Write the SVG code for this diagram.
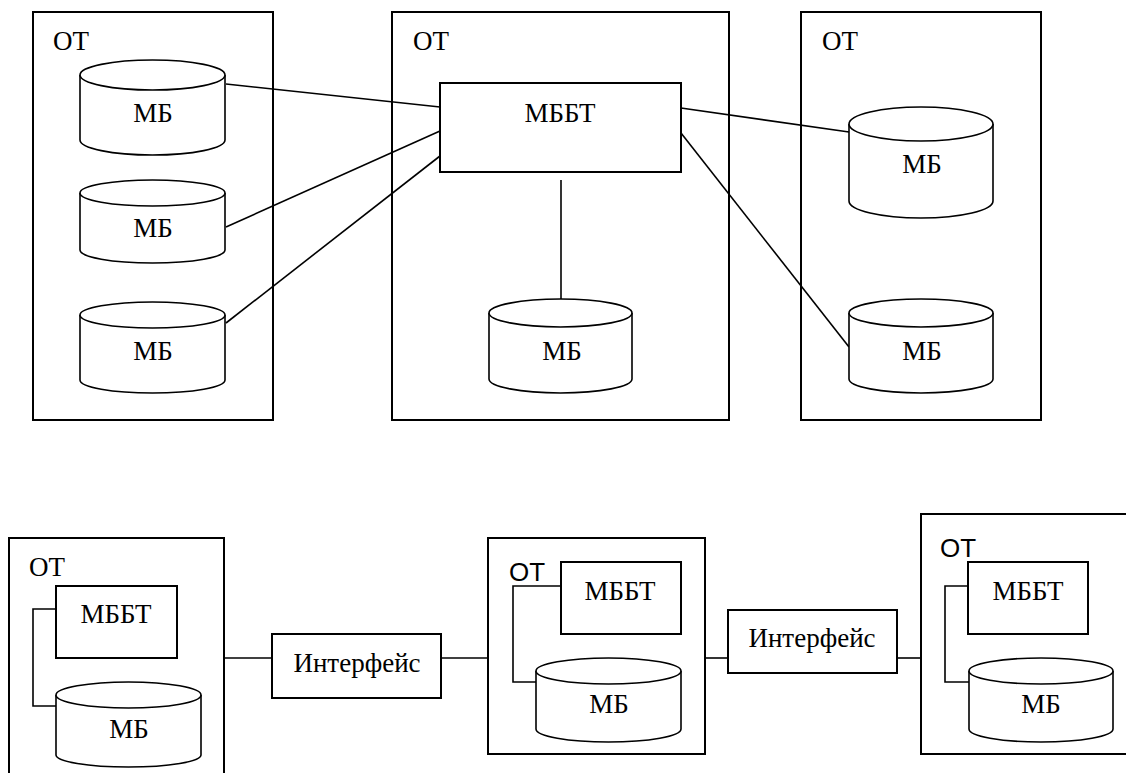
<svg xmlns="http://www.w3.org/2000/svg" width="1126" height="773" viewBox="0 0 1126 773">
<style>
.box{fill:none;stroke:#000;stroke-width:2}
.node{fill:#fff;stroke:#000;stroke-width:2}
.cyl{fill:#fff;stroke:#000;stroke-width:1.6}
.ln{fill:none;stroke:#000;stroke-width:1.6}
</style>
<rect width="1126" height="773" fill="#fff"/>

<g font-family="Liberation Serif, Times New Roman, serif" font-size="27" fill="#000">
<!-- Top row containers -->
<g id="ot-top-left">
<rect class="box" x="33" y="12" width="240" height="408"/>
<text x="53" y="50">ОТ</text>
</g>
<g id="ot-top-center">
<rect class="box" x="392" y="12" width="337" height="408"/>
<text x="413" y="50">ОТ</text>
</g>
<g id="ot-top-right">
<rect class="box" x="801" y="12" width="240" height="408"/>
<text x="822" y="50">ОТ</text>
</g>

<!-- Bottom row containers -->
<g id="ot-bot-left">
<rect class="box" x="9" y="538" width="215" height="250"/>
<text x="29" y="576">ОТ</text>
</g>
<g id="ot-bot-center">
<rect class="box" x="488" y="538" width="217" height="216"/>
<text x="509" y="581" font-family="Liberation Sans, Arial, sans-serif" font-size="26">ОТ</text>
</g>
<g id="ot-bot-right">
<rect class="box" x="921" y="514" width="220" height="240"/>
<text x="940" y="557" font-family="Liberation Sans, Arial, sans-serif" font-size="26">ОТ</text>
</g>

<!-- Connectors -->
<g id="connectors">
<line class="ln" x1="226" y1="84" x2="440" y2="107"/>
<line class="ln" x1="226" y1="227" x2="440" y2="131"/>
<line class="ln" x1="226" y1="323" x2="440" y2="156"/>
<line class="ln" x1="681" y1="108" x2="849" y2="132"/>
<line class="ln" x1="681" y1="133" x2="849" y2="347"/>
<line class="ln" x1="561" y1="180" x2="561" y2="299"/>
<line class="ln" x1="224" y1="658" x2="272" y2="658"/>
<line class="ln" x1="441" y1="658" x2="488" y2="658"/>
<line class="ln" x1="705" y1="658" x2="728" y2="658"/>
<line class="ln" x1="897" y1="658" x2="921" y2="658"/>
<polyline class="ln" points="56,609 33,609 33,706 56,706"/>
<polyline class="ln" points="561,586 513,586 513,682 536,682"/>
<polyline class="ln" points="968,586 945,586 945,682 969,682"/>
</g>

<g text-anchor="middle">
<!-- Top row nodes -->
<g id="mb-tl-1">
<path class="cyl" d="M80,75 L80,140 A72.5,15 0 0,0 225,140 L225,75"/>
<ellipse class="cyl" cx="152.5" cy="75" rx="72.5" ry="15"/>
<text x="153" y="122">МБ</text>
</g>
<g id="mb-tl-2">
<path class="cyl" d="M80,193 L80,250 A72.5,13 0 0,0 225,250 L225,193"/>
<ellipse class="cyl" cx="152.5" cy="193" rx="72.5" ry="13"/>
<text x="153" y="237">МБ</text>
</g>
<g id="mb-tl-3">
<path class="cyl" d="M80,315 L80,380 A72.5,13 0 0,0 225,380 L225,315"/>
<ellipse class="cyl" cx="152.5" cy="315" rx="72.5" ry="13"/>
<text x="153" y="360">МБ</text>
</g>
<g id="mbbt-top">
<rect class="node" x="440" y="83" width="241" height="89"/>
<text x="560" y="122">МББТ</text>
</g>
<g id="mb-tc">
<path class="cyl" d="M489,313 L489,379 A71.5,14 0 0,0 632,379 L632,313"/>
<ellipse class="cyl" cx="560.5" cy="313" rx="71.5" ry="14"/>
<text x="562" y="360">МБ</text>
</g>
<g id="mb-tr-1">
<path class="cyl" d="M849,124 L849,201 A72,17 0 0,0 993,201 L993,124"/>
<ellipse class="cyl" cx="921" cy="124" rx="72" ry="17"/>
<text x="922" y="173">МБ</text>
</g>
<g id="mb-tr-2">
<path class="cyl" d="M849,313 L849,379 A72,14 0 0,0 993,379 L993,313"/>
<ellipse class="cyl" cx="921" cy="313" rx="72" ry="14"/>
<text x="922" y="360">МБ</text>
</g>

<!-- Bottom row nodes -->
<g id="mbbt-bl">
<rect class="node" x="56" y="586" width="121" height="72"/>
<text x="116" y="623">МББТ</text>
</g>
<g id="mb-bl">
<path class="cyl" d="M56,695 L56,755 A72.5,12 0 0,0 201,755 L201,695"/>
<ellipse class="cyl" cx="128.5" cy="695" rx="72.5" ry="13"/>
<text x="129" y="738">МБ</text>
</g>
<g id="iface-1">
<rect class="node" x="272" y="634" width="169" height="64"/>
<text x="357" y="672">Интерфейс</text>
</g>
<g id="mbbt-bc">
<rect class="node" x="561" y="562" width="120" height="72"/>
<text x="620" y="600">МББТ</text>
</g>
<g id="mb-bc">
<path class="cyl" d="M536,671 L536,729 A72.5,13 0 0,0 681,729 L681,671"/>
<ellipse class="cyl" cx="608.5" cy="671" rx="72.5" ry="13"/>
<text x="609" y="713">МБ</text>
</g>
<g id="iface-2">
<rect class="node" x="728" y="610" width="169" height="63"/>
<text x="812" y="647">Интерфейс</text>
</g>
<g id="mbbt-br">
<rect class="node" x="968" y="562" width="120" height="72"/>
<text x="1028" y="600">МББТ</text>
</g>
<g id="mb-br">
<path class="cyl" d="M969,671 L969,729 A72,13 0 0,0 1113,729 L1113,671"/>
<ellipse class="cyl" cx="1041" cy="671" rx="72" ry="13"/>
<text x="1041" y="713">МБ</text>
</g>
</g>
</g>
</svg>
